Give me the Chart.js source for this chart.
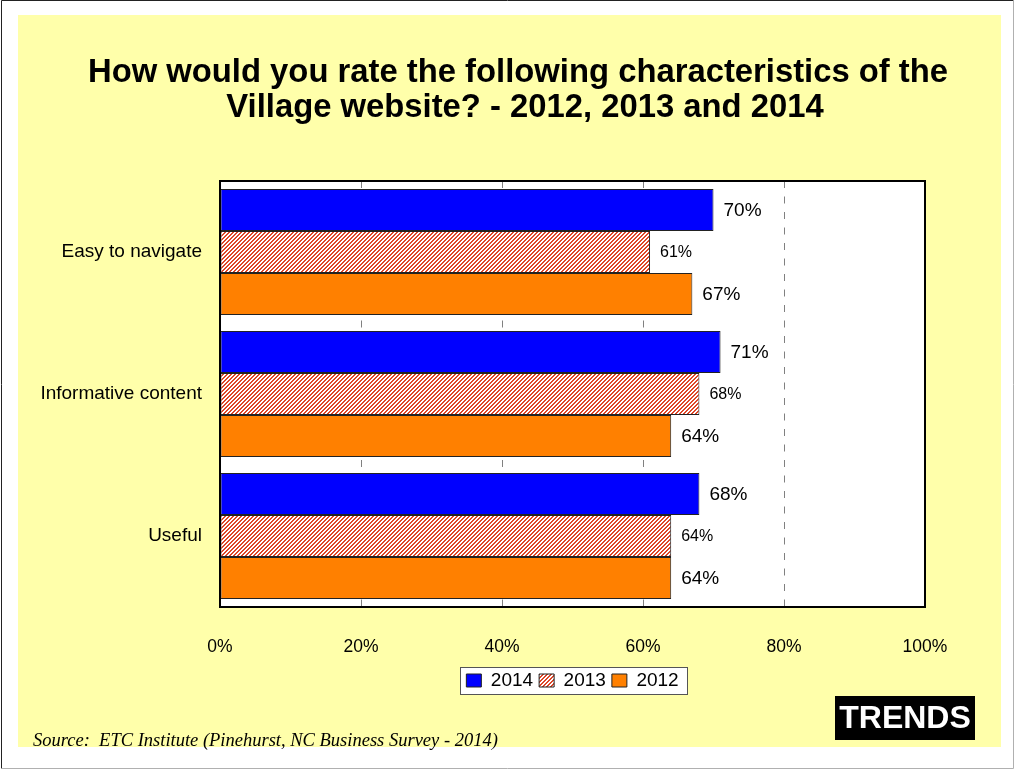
<!DOCTYPE html>
<html>
<head>
<meta charset="utf-8">
<script src="https://cdn.jsdelivr.net/npm/chart.js@4.4.1/dist/chart.umd.min.js"></script>
<style>
  html, body { margin: 0; padding: 0; background: #fff; }
  #grafico { display: block; }
</style>
</head>
<body>
<canvas id="grafico" width="1014" height="769"></canvas>
<script>
const categorias = ['Easy to navigate', 'Informative content', 'Useful'];
const valores2014 = [70, 71, 68];
const valores2013 = [61, 68, 64];
const valores2012 = [67, 64, 64];
const titulo = ['How would you rate the following characteristics of the', 'Village website? - 2012, 2013 and 2014'];
const fuente = 'Source:  ETC Institute (Pinehurst, NC Business Survey - 2014)';

const FUENTE_SANS = '"Liberation Sans", Arial, sans-serif';

// rayado diagonal rojo para la serie 2013
function crearRayado() {
  const c = document.createElement('canvas');
  c.width = 4;
  c.height = 4;
  const g = c.getContext('2d');
  g.fillStyle = '#ffffff';
  g.fillRect(0, 0, 4, 4);
  g.fillStyle = 'rgb(222, 70, 40)';
  for (let x = 0; x < 4; x++) {
    for (let y = 0; y < 4; y++) {
      if ((x + y) % 4 < 2) g.fillRect(x, y, 1, 1);
    }
  }
  return g.createPattern(c, 'repeat');
}

const fondo = {
  id: 'fondo',
  afterLayout(chart) {
    // centrar la leyenda bajo el area de trazado
    const leyenda = chart.legend;
    const a = chart.chartArea;
    if (leyenda && a) {
      leyenda.left = a.left;
      leyenda.right = a.right;
      leyenda.width = a.right - a.left;
    }
  },
  beforeDraw(chart) {
    const { ctx, chartArea: a, width, height } = chart;
    ctx.save();
    ctx.fillStyle = '#ffffff';
    ctx.fillRect(0, 0, width, height);
    ctx.strokeStyle = '#222222';
    ctx.lineWidth = 1;
    ctx.beginPath();
    ctx.moveTo(1.5, height - 0.5);
    ctx.lineTo(1.5, 0.5);
    ctx.lineTo(width - 0.5, 0.5);
    ctx.stroke();
    ctx.strokeStyle = '#b0b0b0';
    ctx.beginPath();
    ctx.moveTo(1.5, height - 0.5);
    ctx.lineTo(width - 0.5, height - 0.5);
    ctx.lineTo(width - 0.5, 0.5);
    ctx.stroke();
    ctx.fillStyle = '#ffffaa';
    ctx.fillRect(18, 15, 983, 732);
    ctx.fillStyle = '#ffffff';
    ctx.fillRect(a.left, a.top, a.right - a.left, a.bottom - a.top);

    // marco blanco de la leyenda
    const cajas = chart.legend.legendHitBoxes;
    if (cajas.length) {
      const izq = Math.round(Math.min(...cajas.map((c) => c.left)) - 6);
      const der = Math.round(Math.max(...cajas.map((c) => c.left + c.width)) + 8);
      const arr = Math.round(Math.min(...cajas.map((c) => c.top)) - 4);
      const aba = Math.round(Math.max(...cajas.map((c) => c.top + c.height)) + 4);
      ctx.fillStyle = '#ffffff';
      ctx.fillRect(izq, arr, der - izq, aba - arr);
      ctx.strokeStyle = '#555555';
      ctx.lineWidth = 1;
      ctx.strokeRect(izq + 0.5, arr + 0.5, der - izq, aba - arr);
    }

    ctx.fillStyle = '#000000';
    ctx.font = 'bold 32.8px ' + FUENTE_SANS;
    ctx.textAlign = 'center';
    ctx.textBaseline = 'middle';
    ctx.fillText(titulo[0], 518, 73);
    ctx.fillText(titulo[1], 525, 108);
    ctx.restore();
  },
  afterDatasetsDraw(chart) {
    const { ctx, chartArea: a } = chart;
    ctx.save();
    ctx.strokeStyle = '#000000';
    ctx.lineWidth = 2;
    ctx.strokeRect(a.left, a.top, a.right - a.left, a.bottom - a.top);

    // etiquetas de valor al final de cada barra
    ctx.fillStyle = '#000000';
    ctx.textAlign = 'left';
    ctx.textBaseline = 'middle';
    chart.data.datasets.forEach((ds, i) => {
      const meta = chart.getDatasetMeta(i);
      ctx.font = (ds.label === '2013' ? '16px ' : '19px ') + FUENTE_SANS;
      meta.data.forEach((barra, j) => {
        ctx.fillText(ds.data[j] + '%', barra.x + 10, barra.y + 1);
      });
    });
    ctx.restore();
  },
  afterDraw(chart) {
    const { ctx } = chart;
    ctx.save();
    ctx.fillStyle = '#000000';
    ctx.font = 'italic 18.5px "Liberation Serif", "Times New Roman", serif';
    ctx.textAlign = 'left';
    ctx.textBaseline = 'alphabetic';
    ctx.fillText(fuente, 33, 746);

    ctx.fillStyle = '#000000';
    ctx.fillRect(835, 696, 140, 44);
    ctx.fillStyle = '#ffffff';
    ctx.font = 'bold 32px ' + FUENTE_SANS;
    ctx.textAlign = 'center';
    ctx.textBaseline = 'middle';
    ctx.fillText('TRENDS', 905, 719);
    ctx.restore();
  }
};

const canvas = document.querySelector('#grafico');
const rayado = crearRayado();

new Chart(canvas, {
  type: 'bar',
  data: {
    labels: categorias,
    datasets: [
      { label: '2014', data: valores2014, backgroundColor: '#0000ff' },
      { label: '2013', data: valores2013, backgroundColor: rayado },
      { label: '2012', data: valores2012, backgroundColor: '#ff8000' }
    ]
  },
  options: {
    indexAxis: 'y',
    responsive: false,
    animation: false,
    datasets: {
      bar: {
        categoryPercentage: 0.887,
        barPercentage: 1,
        borderWidth: 1,
        borderColor: '#222222',
        borderSkipped: false
      }
    },
    layout: {
      padding: { top: 181, right: 89, bottom: 69, left: 0 }
    },
    plugins: {
      title: { display: false },
      legend: {
        position: 'bottom',
        labels: {
          color: '#000000',
          font: { family: FUENTE_SANS, size: 19 },
          boxWidth: 15,
          boxHeight: 13,
          padding: 6
        }
      },
      tooltip: { enabled: false }
    },
    scales: {
      x: {
        min: 0,
        max: 100,
        ticks: {
          stepSize: 20,
          color: '#000000',
          font: { family: FUENTE_SANS, size: 17.5 },
          padding: 30,
          callback: (v) => v + '%'
        },
        grid: {
          color: '#808080',
          lineWidth: 1,
          drawTicks: false
        },
        border: { display: false, dash: [7, 8.5] },
        afterFit(scale) {
          scale.height = 58;
        }
      },
      y: {
        ticks: {
          color: '#000000',
          font: { family: FUENTE_SANS, size: 19 },
          padding: 18
        },
        grid: { display: false, drawTicks: false },
        border: { display: false },
        afterFit(scale) {
          scale.width = 220;
        }
      }
    }
  },
  plugins: [fondo]
});
</script>
</body>
</html>
